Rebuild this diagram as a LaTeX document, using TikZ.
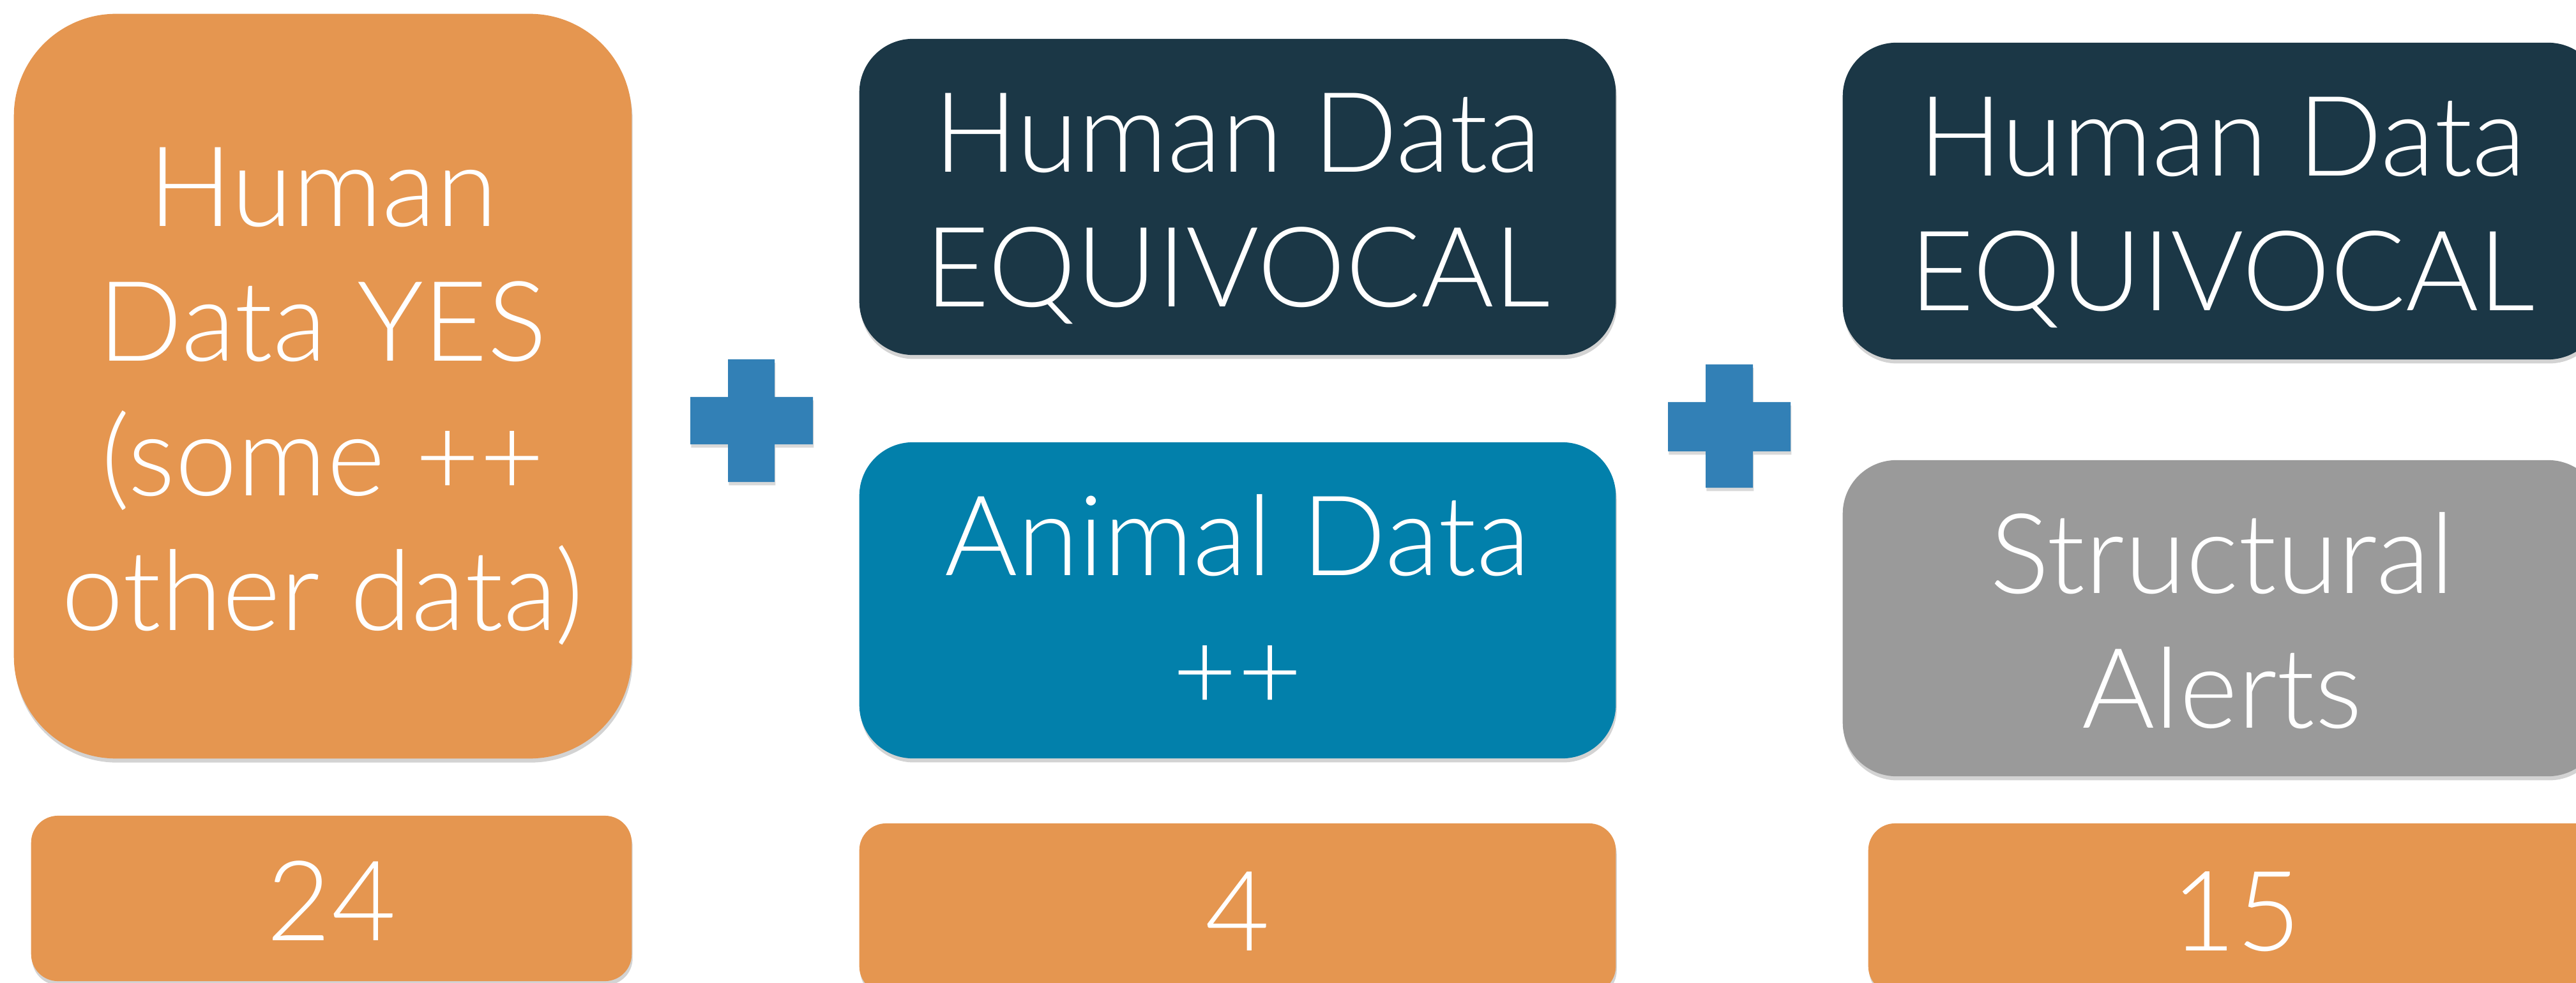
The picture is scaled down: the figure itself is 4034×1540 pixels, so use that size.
\documentclass[tikz,border=0pt]{standalone}
\usepackage{fontspec}
\setmainfont{Lato}[UprightFont=* Light]
\usetikzlibrary{shadows}
\definecolor{cOrange}{RGB}{229,150,80}
\definecolor{cNavy}{RGB}{27,55,70}
\definecolor{cBlue}{RGB}{2,128,171}
\definecolor{cGray}{RGB}{154,154,154}
\definecolor{cPlus}{RGB}{50,128,182}
\newcommand\boxtext[1]{\raisebox{-6.8pt}[\height][\depth]{\begin{tabular}{@{}c@{}}#1\end{tabular}}}
\begin{document}
\begin{tikzpicture}[x=0.01cm,y=-0.01cm,
  box/.style={rounded corners=#1, text=white, align=center, inner sep=0pt,
    font=\fontsize{49.6}{60}\selectfont,
    drop shadow={shadow xshift=0.4pt, shadow yshift=-1.8pt, opacity=0.35}},
  plusshape/.style={fill=cPlus, drop shadow={shadow xshift=0.4pt, shadow yshift=-1.5pt, opacity=0.3}}
]
\useasboundingbox (0,0) rectangle (4034,1540);
\clip (0,0) rectangle (4034,1540);
% column 1
\node[box=1.6cm, fill=cOrange, minimum width=9.67cm, minimum height=11.66cm] (hyes) at (505.5,605)
  {\boxtext{Human\\Data YES\\(some ++\\other data)}};
\node[box=0.42cm, fill=cOrange, minimum width=9.40cm, minimum height=2.59cm] (n24) at (519,1407.5) {\boxtext{24}};
% plus 1
\path[plusshape] (1140,563) -- (1213,563) -- (1213,622) -- (1273,622) -- (1273,696) -- (1213,696)
  -- (1213,755) -- (1140,755) -- (1140,696) -- (1081,696) -- (1081,622) -- (1140,622) -- cycle;
% column 2
\node[box=0.84cm, fill=cNavy, minimum width=11.84cm, minimum height=4.95cm] (heq1) at (1938,308.5)
  {\boxtext{Human Data\\EQUIVOCAL}};
\node[box=0.84cm, fill=cBlue, minimum width=11.84cm, minimum height=4.95cm] (anim) at (1938,940.5)
  {\boxtext{Animal Data\\++}};
\node[box=0.42cm, fill=cOrange, minimum width=11.84cm, minimum height=2.66cm] (n4) at (1938,1423) {\boxtext{4}};
% plus 2
\path[plusshape] (2671,571) -- (2745,571) -- (2745,630) -- (2804,630) -- (2804,707) -- (2745,707)
  -- (2745,764) -- (2671,764) -- (2671,707) -- (2612,707) -- (2612,630) -- (2671,630) -- cycle;
% column 3
\node[box=0.84cm, fill=cNavy, minimum width=11.88cm, minimum height=4.96cm] (heq2) at (3480,315)
  {\boxtext{Human Data\\EQUIVOCAL}};
\node[box=0.84cm, fill=cGray, minimum width=11.88cm, minimum height=4.95cm] (salert) at (3480,968.5)
  {\boxtext{Structural\\Alerts}};
\node[box=0.42cm, fill=cOrange, minimum width=11.52cm, minimum height=2.66cm] (n15) at (3502,1423) {\boxtext{15}};
\end{tikzpicture}
\end{document}
